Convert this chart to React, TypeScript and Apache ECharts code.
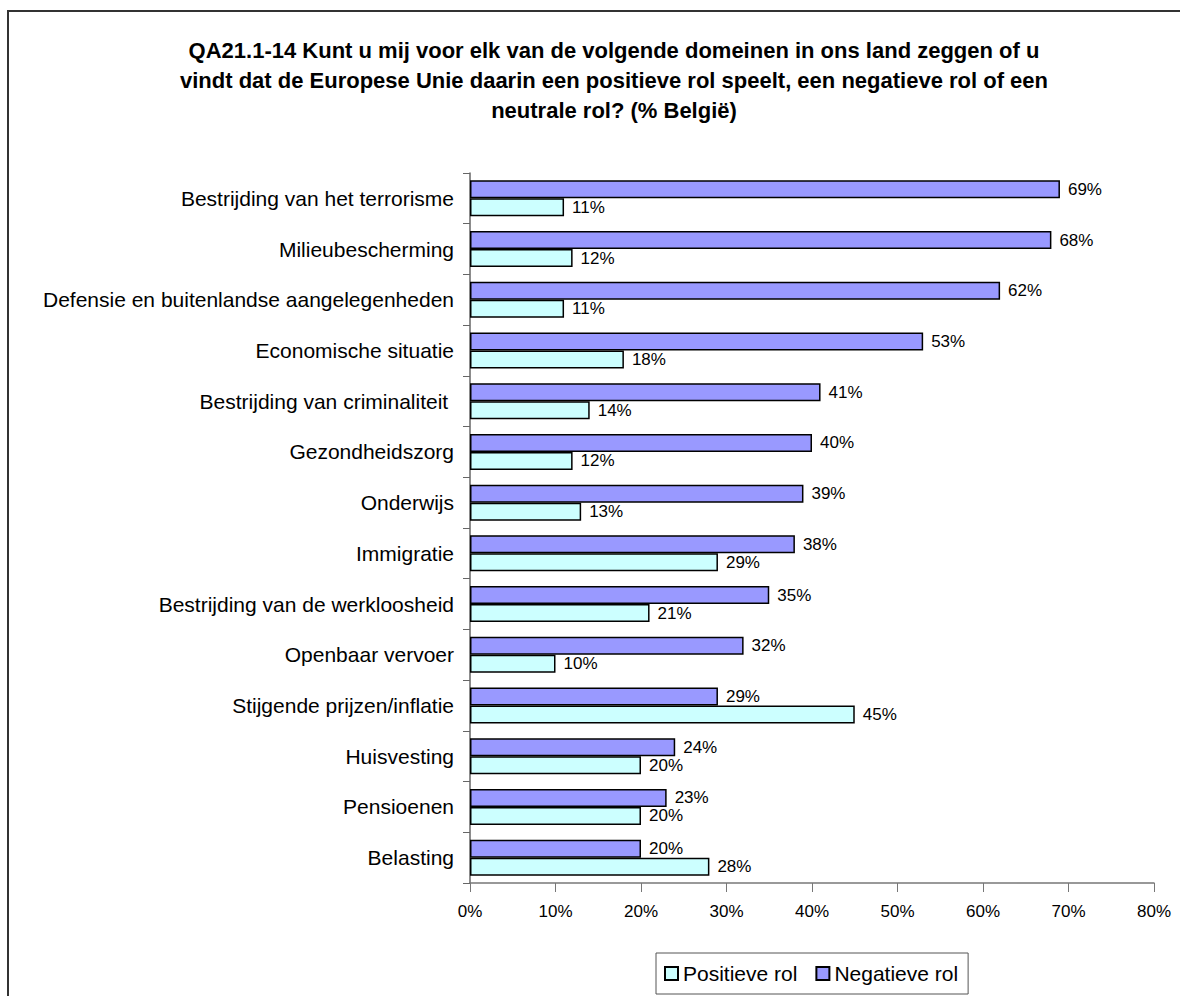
import React, { useEffect, useRef } from "react";
import * as echarts from "echarts";

const categories = [
  "Bestrijding van het terrorisme",
  "Milieubescherming",
  "Defensie en buitenlandse aangelegenheden",
  "Economische situatie",
  "Bestrijding van criminaliteit ",
  "Gezondheidszorg",
  "Onderwijs",
  "Immigratie",
  "Bestrijding van de werkloosheid",
  "Openbaar vervoer",
  "Stijgende prijzen/inflatie",
  "Huisvesting",
  "Pensioenen",
  "Belasting",
];
const negatieve = [69, 68, 62, 53, 41, 40, 39, 38, 35, 32, 29, 24, 23, 20];
const positieve = [11, 12, 11, 18, 14, 12, 13, 29, 21, 10, 45, 20, 20, 28];
const titleText =
  "QA21.1-14 Kunt u mij voor elk van de volgende domeinen in ons land zeggen of u\nvindt dat de Europese Unie daarin een positieve rol speelt, een negatieve rol of een\nneutrale rol? (% België)";

const FONT = "'Liberation Sans', Arial, sans-serif";

export default function App() {
  const ref = useRef<HTMLDivElement>(null);
  useEffect(() => {
    document.body.style.margin = "0";
    const chart = echarts.init(ref.current!, null, { renderer: "svg" });
    const labelStyle = {
      show: true,
      position: "right" as const,
      distance: 8,
      formatter: "{c}%",
      color: "#000",
      fontSize: 17,
      fontFamily: FONT,
    };
    chart.setOption({
      animation: false,
      backgroundColor: "#fff",
      title: {
        text: titleText,
        left: 609,
        top: 30,
        textAlign: "center",
        textStyle: {
          fontFamily: FONT,
          fontWeight: "bold",
          fontSize: 22,
          lineHeight: 30,
          color: "#000",
        },
      },
      graphic: [
        {
          type: "rect",
          shape: { x: 8, y: 11, width: 1190, height: 1000 },
          style: { fill: "none", stroke: "#333", lineWidth: 2 },
          silent: true,
          z: -1,
        },
      ],
      legend: {
        data: ["Positieve rol", "Negatieve rol"],
        left: 656,
        top: 953,
        orient: "horizontal",
        icon: "rect",
        itemWidth: 13,
        itemHeight: 13,
        itemGap: 18,
        padding: [10, 10, 10, 8],
        borderColor: "#555",
        borderWidth: 1,
        textStyle: { fontFamily: FONT, fontSize: 21, color: "#000" },
      },
      grid: { left: 470, right: 26, top: 173, bottom: 113, containLabel: false },
      xAxis: {
        type: "value",
        min: 0,
        max: 80,
        interval: 10,
        axisLine: { show: true, lineStyle: { color: "#777", width: 1.5 } },
        axisTick: { show: true, length: 9, lineStyle: { color: "#777" } },
        splitLine: { show: false },
        axisLabel: {
          formatter: "{value}%",
          color: "#000",
          fontSize: 17,
          fontFamily: FONT,
          margin: 20,
        },
      },
      yAxis: {
        type: "category",
        data: categories,
        inverse: true,
        axisLine: { show: true, lineStyle: { color: "#666", width: 1.5 } },
        axisTick: { show: true, length: 7, lineStyle: { color: "#666" } },
        axisLabel: {
          color: "#000",
          fontSize: 21,
          fontFamily: FONT,
          margin: 16,
        },
      },
      series: [
        {
          name: "Negatieve rol",
          type: "bar",
          data: negatieve,
          barWidth: 18,
          barGap: "0%",
          itemStyle: { color: "#9999FF", borderColor: "#000", borderWidth: 1.5 },
          label: labelStyle,
        },
        {
          name: "Positieve rol",
          type: "bar",
          data: positieve,
          barWidth: 18,
          barGap: "0%",
          itemStyle: { color: "#CCFFFF", borderColor: "#000", borderWidth: 1.5 },
          label: labelStyle,
        },
      ],
    });
    return () => chart.dispose();
  }, []);
  return <div ref={ref} style={{ width: 1180, height: 996 }} />;
}
